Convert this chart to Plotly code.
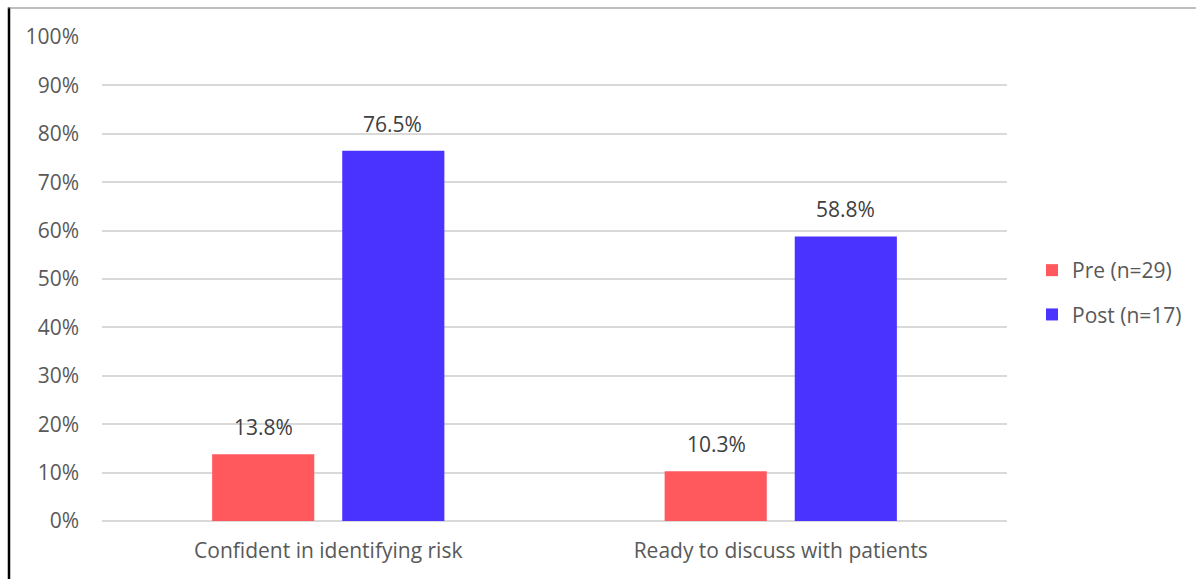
import plotly.graph_objects as go

categories = ["Confident in identifying risk", "Ready to discuss with patients"]
series_names = ["Pre (n=29)", "Post (n=17)"]
pre_values = [13.8, 10.3]
post_values = [76.5, 58.8]
colors = ["#FF595E", "#4A32FF"]
tick_vals = [0, 10, 20, 30, 40, 50, 60, 70, 80, 90, 100]
tick_text = [f"{v}%" for v in tick_vals]

FONT = "'Open Sans', 'Noto Sans', sans-serif"
TXT = "#595959"
FS = 21

fig = go.Figure()
for name, vals, col in zip(series_names, [pre_values, post_values], colors):
    fig.add_trace(go.Bar(
        x=categories, y=vals, name=name, marker_color=col,
        marker_line_width=0, legendgroup=name,
    ))

# data labels
for shift, vals in zip([-64.5, 64.5], [pre_values, post_values]):
    for c, v in zip(categories, vals):
        fig.add_annotation(
            x=c, y=v, xref="x", yref="y", text=f"{v:.1f}%",
            showarrow=False, xshift=shift, yshift=27,
            font=dict(size=FS, color="#404040", family=FONT),
        )

W, H = 1196, 579
L, R, T, B = 102, 189, 37, 58
pw, ph = W - L - R, H - T - B

def px_x(p):
    return (p - L) / pw

def px_y(p):
    return (H - B - p) / ph

# frame lines (left black, top gray)
fig.add_shape(type="line", xref="paper", yref="paper",
              x0=px_x(9), x1=px_x(9), y0=px_y(7.5), y1=px_y(H + 5),
              line=dict(color="black", width=2.5))
fig.add_shape(type="line", xref="paper", yref="paper",
              x0=px_x(8), x1=px_x(W + 5), y0=px_y(8), y1=px_y(8),
              line=dict(color="#7F7F7F", width=1.2))

fig.update_layout(
    width=W, height=H,
    margin=dict(l=L, r=R, t=T, b=B, autoexpand=False),
    paper_bgcolor="white", plot_bgcolor="white",
    barmode="group", bargap=0.425, bargroupgap=0.215,
    font=dict(family=FONT, color=TXT, size=FS),
    showlegend=True,
    legend=dict(
        x=px_x(1032), y=px_y(250), xanchor="left", yanchor="top",
        font=dict(size=FS, color=TXT, family=FONT),
        tracegroupgap=14, bgcolor="rgba(0,0,0,0)",
    ),
    xaxis=dict(
        showgrid=False, showline=False, zeroline=False,
        tickfont=dict(size=FS, color=TXT, family=FONT),
        ticks="", ticklabelstandoff=15,
    ),
    yaxis=dict(
        range=[0, 100], tickvals=tick_vals, ticktext=tick_text,
        showgrid=True, gridcolor="#D9D9D9", gridwidth=1.5,
        zeroline=True, zerolinecolor="#D9D9D9", zerolinewidth=1.5,
        showline=False, ticks="",
        tickfont=dict(size=FS, color=TXT, family=FONT),
        ticklabelstandoff=22,
    ),
)

fig.write_html("out.html")
